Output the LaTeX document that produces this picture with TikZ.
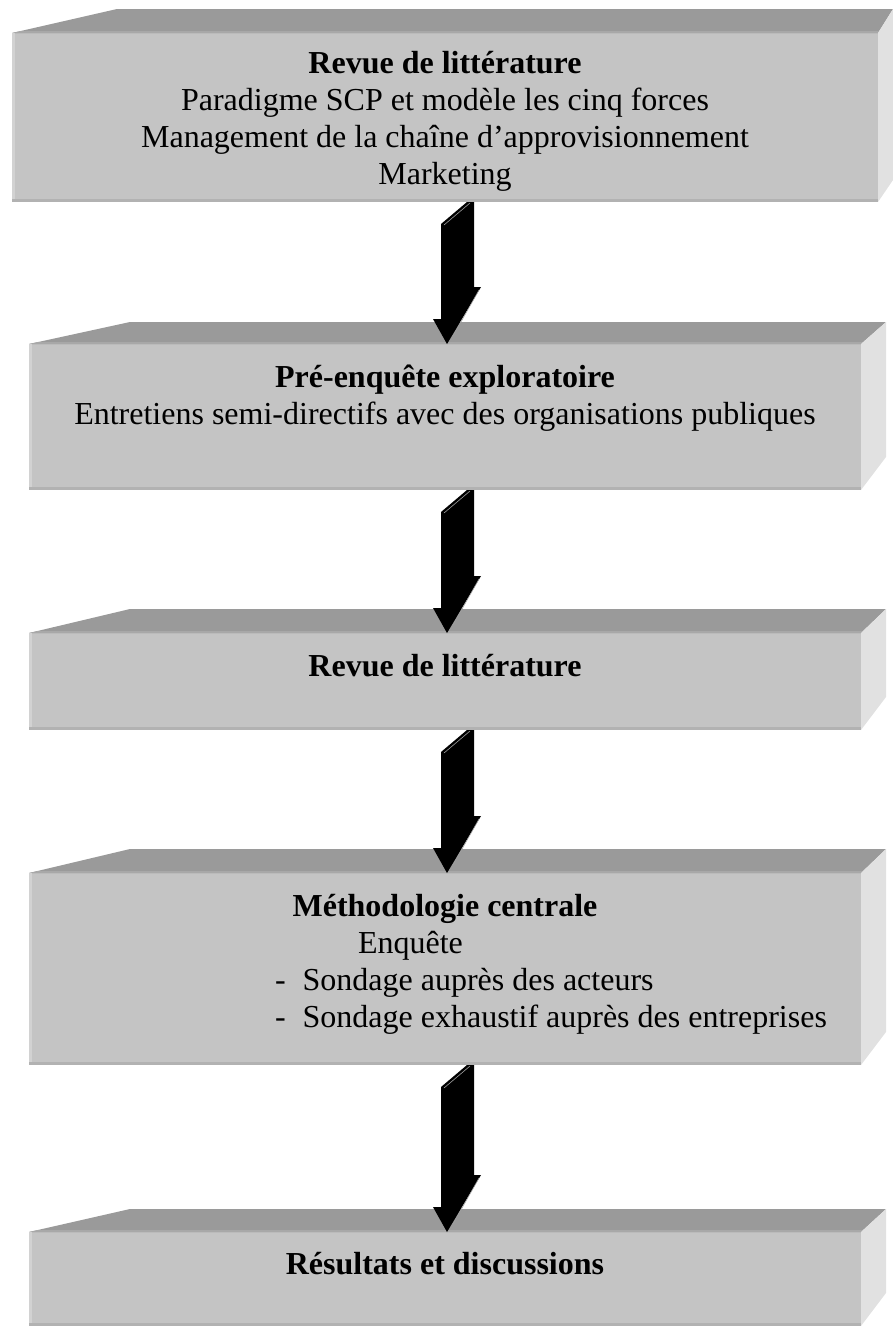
\documentclass[tikz,border=0pt]{standalone}
\usepackage{fontspec}
\setmainfont{Liberation Serif}
\usetikzlibrary{calc}
\definecolor{frontc}{HTML}{C4C4C4}
\definecolor{topc}{HTML}{9A9A9A}
\definecolor{sidec}{HTML}{E1E1E1}
\definecolor{edgel}{HTML}{D2D2D2}
\definecolor{edgeb}{HTML}{B2B2B2}
\definecolor{edget}{HTML}{A8A8A8}
% #1 name, #2 x, #3 y, #4 w, #5 h, #6 left depth, #7 right depth, #8 top rise, #9 bottom rise (right face)
\newcommand\slabbox[9]{%
  \node[front, minimum width=#4pt, minimum height=#5pt] (#1) at (#2,#3) {};
  \fill[topc] (#1.north west) -- ($(#1.north west)+(#6,-#8)$) -- ($(#1.north east)+(#7,-#8)$) -- (#1.north east) -- cycle;
  \fill[edget] (#1.north west) -- ($(#1.north west)+(9,-2)$) -- ($(#1.north east)+(1,-2)$) -- (#1.north east) -- cycle;
  \fill[sidec] (#1.north east) -- ($(#1.north east)+(#7,-#8)$) -- ($(#1.south east)+(#7,-#9)$) -- (#1.south east) -- cycle;
  \fill[edgel] (#1.north west) rectangle ($(#1.south west)+(2.5,0)$);
  \fill[edgeb] ($(#1.south west)+(0,-3)$) rectangle (#1.south east);
}
% 3D block arrow from node #1 (south) to node #2 (north)
\newcommand\blockarrow[2]{%
  \fill[black] let \p1=(#1.south), \p2=(#2.north) in
    (441pt,\y1-22pt) -- (467pt,\y1) -- (474pt,\y1) -- (474pt,\y2+57pt) -- (481pt,\y2+57pt)
    -- (447pt,\y2) -- (433pt,\y2+25pt) -- (441pt,\y2+25pt) -- cycle;
  \draw[gray!75, line width=0.6pt] let \p1=(#1.south), \p2=(#2.north) in
    (444pt,\y1-23pt) -- (470pt,\y1-1pt) (453pt,\y2+8pt) -- (479pt,\y2+54pt);
}
\begin{document}
\begin{tikzpicture}[x=1pt,y=-1pt,
  every node/.style={inner sep=0pt,outer sep=0pt},
  front/.style={fill=frontc, anchor=north west, draw=none},
  txt/.style={anchor=base, font=\fontsize{32}{37}\selectfont},
  txtl/.style={anchor=base west, font=\fontsize{32}{37}\selectfont},
  ttl/.style={anchor=base, font=\fontsize{32}{37}\selectfont\bfseries}]
\useasboundingbox (0,0) rectangle (893,1326);
\begin{scope}
\clip (0,0) rectangle (893,1326);
\slabbox{b1}{12}{33}{866}{169}{105}{15}{24}{22}
\slabbox{b2}{29}{344}{832}{146}{101}{25}{22}{33}
\slabbox{b3}{29}{633}{832}{97}{101}{25}{24}{33}
\slabbox{b4}{29}{873}{832}{192}{101}{25}{24}{33}
\slabbox{b5}{29}{1232}{832}{94}{101}{25}{23}{33}

\node[ttl] (t1) at (445,73) {Revue de littérature};
\node[txt] (t1a) at (445,110) {Paradigme SCP et modèle les cinq forces};
\node[txt] (t1b) at (445,147) {Management de la chaîne d’approvisionnement};
\node[txt] (t1c) at (445,184) {Marketing};

\node[ttl] (t2) at (445,387) {Pré-enquête exploratoire};
\node[txt] (t2a) at (445,424) {Entretiens semi-directifs avec des organisations publiques};

\node[ttl] (t3) at (445,676) {Revue de littérature};

\node[ttl] (t4) at (445,916) {Méthodologie centrale};
\node[txtl] (t4a) at (358,953) {Enquête};
\node[txtl] (t4b) at (275,990) {-\hspace{17pt}Sondage auprès des acteurs};
\node[txtl] (t4c) at (275,1027) {-\hspace{17pt}Sondage exhaustif auprès des entreprises};

\node[ttl] (t5) at (445,1274) {Résultats et discussions};

\blockarrow{b1}{b2}
\blockarrow{b2}{b3}
\blockarrow{b3}{b4}
\blockarrow{b4}{b5}
\end{scope}
\end{tikzpicture}
\end{document}
